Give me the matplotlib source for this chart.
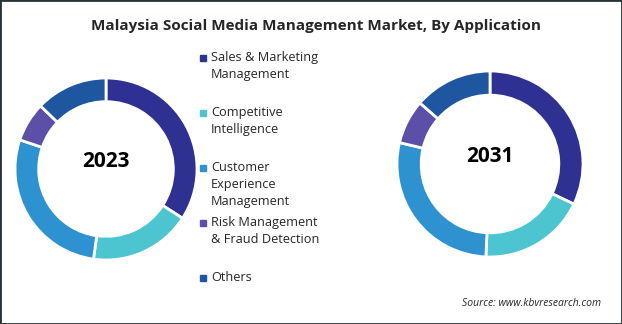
import matplotlib.pyplot as plt
from matplotlib.patches import Rectangle

# donnees
categories = ['Sales & Marketing\nManagement', 'Competitive\nIntelligence',
              'Customer\nExperience\nManagement', 'Risk Management\n& Fraud Detection',
              'Others']
share_2023 = [34.1, 18.1, 28.0, 7.0, 12.8]
share_2031 = [32.1, 18.6, 28.0, 7.7, 13.6]
years = ['2023', '2031']
colors = ['#2e3192', '#4dc5d0', '#2e92d1', '#5b4fa8', '#1f56a0']

W, H = 622, 324
fig = plt.figure(figsize=(W / 100, H / 100), dpi=100)
plt.rcParams['font.family'] = ['Open Sans', 'DejaVu Sans']

def donut(cx, cy, r, values, year):
    ax = fig.add_axes([(cx - r) / W, (H - cy - r) / H, 2 * r / W, 2 * r / H])
    ax.pie(values, colors=colors, startangle=90, counterclock=False, radius=1,
           wedgeprops=dict(width=0.26, edgecolor='white', linewidth=2))
    ax.set_xlim(-1, 1)
    ax.set_ylim(-1, 1)
    ax.text(0, 0.08, year, ha='center', va='center', fontsize=15, fontweight='bold',
            color='black')
    ax.axis('off')

donut(106, 169, 91, share_2023, years[0])
donut(490, 164, 93, share_2031, years[1])

# titre
fig.text(316 / W, 1 - 26 / H, 'Malaysia Social Media Management Market, By Application',
         ha='center', va='center', fontsize=11, fontweight='bold', color='#262626')

# legende
for i, lab in enumerate(categories):
    y = 58 + 55 * i
    fig.patches.append(Rectangle((200 / W, 1 - (y + 3) / H), 6 / W, 6 / H,
                                 transform=fig.transFigure, color=colors[i]))
    fig.text(211 / W, 1 - (y - 7) / H, lab, ha='left', va='top', fontsize=9.2,
             color='#262626', linespacing=1.42)

# source
fig.text(601 / W, 1 - 304 / H, 'Source: www.kbvresearch.com', ha='right', va='center',
         fontsize=7.5, style='italic', color='#262626')

# cadre
fig.patches.append(Rectangle((0, 0), 1, 1, transform=fig.transFigure, fill=False,
                             edgecolor='#263238', linewidth=2))

fig.savefig('out.png', dpi=100)
